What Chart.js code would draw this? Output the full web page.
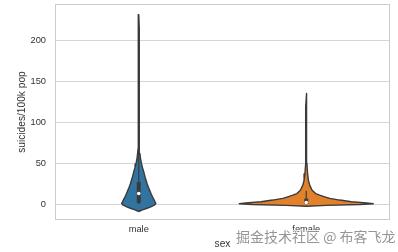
<!DOCTYPE html>
<html>
<head>
<meta charset="utf-8">
<script src="https://cdn.jsdelivr.net/npm/chart.js@4.4.1/dist/chart.umd.min.js"></script>
<style>
  html, body { margin: 0; padding: 0; background: #fff; }
  #wrap { width: 398px; height: 252px; }
</style>
</head>
<body>
<div id="wrap"><canvas id="violin"></canvas></div>
<script>
// categories and tick values
var categories = ['male', 'female'];
var yTicks = [0, 50, 100, 150, 200];

// violin outline: levels (suicides/100k pop) and half widths (in category units)
var maleLevels     = [-9, -7, -5, -3, -1, 1, 3, 6, 9, 13, 17, 21, 25, 29, 33, 37, 41, 45, 49, 55, 62, 70, 85, 100, 130, 170, 215, 232];
var maleHalfWidths = [0, 0.022, 0.050, 0.075, 0.095, 0.102, 0.097, 0.090, 0.082, 0.073, 0.065, 0.057, 0.050, 0.044, 0.038, 0.033, 0.028, 0.022, 0.017, 0.011, 0.007, 0.004, 0.003, 0.003, 0.003, 0.003, 0.003, 0];

var femaleLevels     = [-2.5, -1.5, -0.5, 0.5, 1.5, 3, 5, 7, 9, 11, 13, 17, 23, 29, 37, 50, 70, 100, 120, 135.5];
var femaleHalfWidths = [0, 0.12, 0.32, 0.40, 0.36, 0.27, 0.20, 0.14, 0.11, 0.08, 0.056, 0.035, 0.021, 0.013, 0.008, 0.004, 0.003, 0.003, 0.003, 0];

// inner box: whisker low, q1, median, q3, whisker high
var maleBox   = [0, 1.5, 13, 27, 68];
var femaleBox = [0, 0.4, 2, 6.8, 16.5];

var colors = ['#3274a1', '#e1812c'];
var lineGray = '#3a3a3a';

function outline(pos, levels, widths) {
  var pts = [];
  for (var i = 0; i < levels.length; i++) pts.push({x: pos + widths[i], y: levels[i]});
  for (var j = levels.length - 1; j >= 0; j--) pts.push({x: pos - widths[j], y: levels[j]});
  return pts;
}

var violins = [[maleLevels, maleHalfWidths, maleBox], [femaleLevels, femaleHalfWidths, femaleBox]];
var datasets = [];
violins.forEach(function (v, i) {
  var box = v[2];
  datasets.push({
    type: 'scatter', data: [{x: i, y: box[2]}], order: 0,
    pointRadius: 1.8, pointBackgroundColor: '#fff', pointBorderWidth: 0
  });
  datasets.push({
    type: 'line', data: [{x: i, y: box[1]}, {x: i, y: box[3]}], order: 1,
    borderColor: lineGray, borderWidth: 4, pointRadius: 0, borderCapStyle: 'butt'
  });
  datasets.push({
    type: 'line', data: [{x: i, y: box[0]}, {x: i, y: box[4]}], order: 2,
    borderColor: lineGray, borderWidth: 1.2, pointRadius: 0
  });
  datasets.push({
    type: 'line', data: outline(i, v[0], v[1]), order: 3,
    borderColor: lineGray, borderWidth: 1.4, backgroundColor: colors[i],
    fill: 'shape', pointRadius: 0, tension: 0, borderJoinStyle: 'round'
  });
});

var frame = {
  id: 'frame',
  afterDraw: function (chart) {
    var a = chart.chartArea, ctx = chart.ctx;
    ctx.save();
    ctx.strokeStyle = '#cccccc';
    ctx.lineWidth = 1;
    ctx.strokeRect(Math.round(a.left) + 0.5, Math.round(a.top) + 0.5, Math.round(a.right - a.left) - 1, Math.round(a.bottom - a.top) - 1);
    // watermark
    ctx.font = '14px "Noto Sans CJK SC"';
    ctx.textBaseline = 'alphabetic';
    ctx.lineWidth = 2;
    ctx.strokeStyle = 'rgba(255,255,255,0.8)';
    ctx.strokeText('掘金技术社区 @ 布客飞龙', 236, 242);
    ctx.fillStyle = 'rgba(130,130,130,0.85)';
    ctx.fillText('掘金技术社区 @ 布客飞龙', 236, 242);
    ctx.restore();
  }
};

var tickFont = {family: '"Liberation Sans", Arial, sans-serif', size: 9.3};
var titleFont = {family: '"Liberation Sans", Arial, sans-serif', size: 10.2};

new Chart(document.getElementById('violin'), {
  type: 'scatter',
  data: {datasets: datasets},
  options: {
    responsive: true,
    maintainAspectRatio: false,
    animation: false,
    events: [],
    layout: {padding: {left: 0, right: 8, top: 2, bottom: 0}},
    plugins: {legend: {display: false}, tooltip: {enabled: false}},
    scales: {
      x: {
        type: 'linear', min: -0.5, max: 1.5,
        afterBuildTicks: function (s) { s.ticks = categories.map(function (c, i) { return {value: i}; }); },
        afterFit: function (s) { s.height = 32; s.paddingLeft = 0; s.paddingRight = 0; },
        ticks: {
          font: tickFont, color: '#333', padding: 4,
          callback: function (v) { return categories[v]; }
        },
        grid: {display: false, drawTicks: false},
        border: {display: false},
        title: {display: true, text: 'sex', font: titleFont, color: '#333', padding: {top: 0, bottom: 2}}
      },
      y: {
        min: -19.4, max: 245,
        afterBuildTicks: function (s) { s.ticks = yTicks.map(function (t) { return {value: t}; }); },
        afterFit: function (s) { s.width = 55; s.paddingTop = 0; s.paddingBottom = 0; },
        ticks: {font: tickFont, color: '#333', padding: 9},
        grid: {color: '#d6d6d6', lineWidth: 1, drawTicks: false},
        border: {display: false},
        title: {display: true, text: 'suicides/100k pop', font: titleFont, color: '#333', padding: {top: 16, bottom: 0}}
      }
    }
  },
  plugins: [frame]
});
</script>
</body>
</html>
